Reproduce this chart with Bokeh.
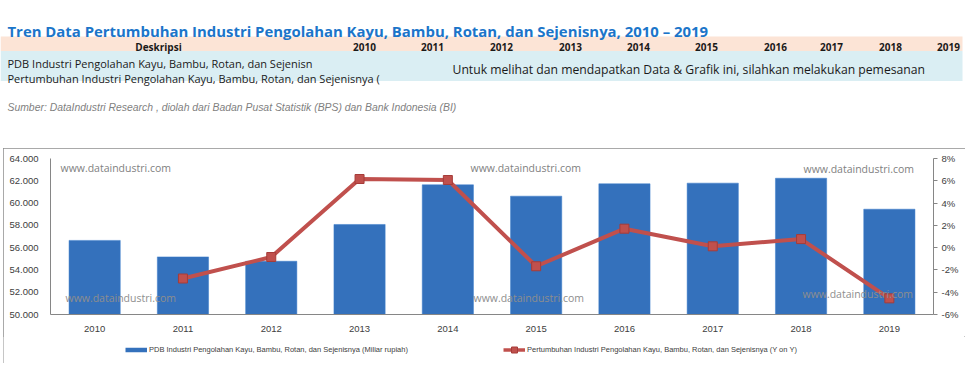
from bokeh.plotting import figure
from bokeh.models import Range1d, LinearAxis, FixedTicker, Label, Legend, LegendItem
from bokeh.layouts import column
from bokeh.embed import file_html
from bokeh.resources import INLINE
from bokeh.core.properties import value

# ---------------- data ----------------
title_text = "Tren Data Pertumbuhan Industri Pengolahan Kayu, Bambu, Rotan, dan Sejenisnya, 2010 \u2013 2019"
years = ["2010", "2011", "2012", "2013", "2014", "2015", "2016", "2017", "2018", "2019"]
pdb = [56650, 55170, 54780, 58080, 61640, 60620, 61730, 61790, 62230, 59450]   # Miliar rupiah
growth_years = ["2011", "2012", "2013", "2014", "2015", "2016", "2017", "2018", "2019"]
growth = [-2.77, -0.84, 6.16, 6.07, -1.67, 1.70, 0.12, 0.77, -4.55]             # % (Y on Y)
left_ticks = [50000, 52000, 54000, 56000, 58000, 60000, 62000, 64000]
left_tick_labels = ["50.000", "52.000", "54.000", "56.000", "58.000", "60.000", "62.000", "64.000"]
right_ticks = [-6, -4, -2, 0, 2, 4, 6, 8]
right_tick_labels = ["-6%", "-4%", "-2%", "0%", "2%", "4%", "6%", "8%"]
bar_label = "PDB Industri Pengolahan Kayu, Bambu, Rotan, dan Sejenisnya (Miliar rupiah)"
line_label = "Pertumbuhan Industri Pengolahan Kayu, Bambu, Rotan, dan Sejenisnya (Y on Y)"
row1_text = "PDB Industri Pengolahan Kayu, Bambu, Rotan, dan Sejenisn"
row2_text = "Pertumbuhan Industri Pengolahan Kayu, Bambu, Rotan, dan Sejenisnya ("
order_text = "Untuk melihat dan mendapatkan Data & Grafik ini, silahkan melakukan pemesanan"
source_text = "Sumber: DataIndustri Research , diolah dari Badan Pusat Statistik (BPS) dan Bank Indonesia (BI)"
watermark = "www.dataindustri.com"

FONT = value("Open Sans")
BAR_FILL, BAR_LINE = "#3471BC", "#3A7CCB"
LINE_COL, MK_FILL, MK_LINE = "#C0504D", "#C0504D", "#A63C39"


def bare(fig):
    fig.axis.visible = False
    fig.grid.visible = False
    fig.outline_line_color = None
    fig.background_fill_color = "white"
    fig.border_fill_color = "white"


# ---------------- header (title + table), page-pixel coordinates ----------------
h = figure(width=968, height=148, x_range=Range1d(0, 968), y_range=Range1d(148, 0),
           output_backend="svg", toolbar_location=None, min_border=0, frame_align=False)
bare(h)

h.quad(left=[0], right=[962], top=[36], bottom=[50.5], fill_color="#FCE4D6", line_color=None)
h.quad(left=[0], right=[962], top=[50.5], bottom=[80.5], fill_color="#DAEEF3", line_color=None)

h.text(x=[7], y=[30], text=[title_text], text_font=FONT, text_font_style="bold",
       text_font_size="14.9px", text_color="#1B75C9", text_baseline="alphabetic")
h.text(x=[158], y=[46.5], text=["Deskripsi"], text_font=FONT, text_font_style="bold",
       text_font_size="10px", text_color="#1a1a1a", text_baseline="alphabetic", text_align="center")
year_x = [364, 432, 501, 570, 638, 706, 775, 831, 890, 948]
h.text(x=year_x, y=[46.5] * len(years), text=years, text_font=FONT, text_font_style="bold",
       text_font_size="10px", text_color="#1a1a1a", text_baseline="alphabetic", text_align="center")
h.text(x=[7, 7], y=[62.5, 77.5], text=[row1_text, row2_text], text_font=FONT,
       text_font_size="11px", text_color="#1a1a1a", text_baseline="alphabetic")
h.text(x=[452], y=[68.5], text=[order_text], text_font=FONT,
       text_font_size="12.2px", text_color="#1a1a1a", text_baseline="alphabetic")
h.text(x=[7], y=[106.5], text=[source_text], text_font=value("Liberation Sans"), text_font_style="italic",
       text_font_size="10.4px", text_color="#7F7F7F", text_baseline="alphabetic")

# ---------------- chart ----------------
p = figure(width=962, height=188, x_range=years, y_range=Range1d(50000, 64000),
           output_backend="svg", toolbar_location=None, frame_align=False,
           min_border_left=47, min_border_right=32, min_border_top=10, min_border_bottom=22)
p.extra_y_ranges = {"g": Range1d(-6, 8)}
p.grid.visible = False
p.outline_line_color = None
p.background_fill_color = "white"
p.border_fill_color = "white"

bars = p.vbar(x=years, top=pdb, bottom=50000, width=0.58,
              fill_color=BAR_FILL, line_color=BAR_LINE, line_width=0.5)
ln = p.line(x=growth_years, y=growth, y_range_name="g", line_color=LINE_COL, line_width=4)
mk = p.scatter(x=growth_years, y=growth, y_range_name="g", marker="square", size=9,
               fill_color=MK_FILL, line_color=MK_LINE, line_width=1)

AX = "#868686"
LBL = "#404040"
p.yaxis.ticker = FixedTicker(ticks=left_ticks)
p.yaxis.major_label_overrides = dict(zip(left_ticks, left_tick_labels))
p.yaxis.axis_line_color = AX
p.yaxis.major_tick_line_color = None
p.yaxis.minor_tick_line_color = None
p.yaxis.major_label_standoff = 6
p.yaxis.major_label_text_font = "Liberation Sans"
p.yaxis.major_label_text_font_size = "9.5px"
p.yaxis.major_label_text_color = LBL

ry = LinearAxis(y_range_name="g", ticker=FixedTicker(ticks=right_ticks),
                major_label_overrides=dict(zip(right_ticks, right_tick_labels)))
ry.axis_line_color = AX
ry.major_tick_line_color = AX
ry.major_tick_in = 0
ry.major_tick_out = 4
ry.minor_tick_line_color = None
ry.major_label_standoff = 4
ry.major_label_text_font = "Liberation Sans"
ry.major_label_text_font_size = "9.5px"
ry.major_label_text_color = LBL
p.add_layout(ry, "right")

p.xaxis.axis_line_color = AX
p.xaxis.major_tick_line_color = None
p.xaxis.major_label_standoff = 5
p.xaxis.major_label_text_font = "Liberation Sans"
p.xaxis.major_label_text_font_size = "9.5px"
p.xaxis.major_label_text_color = LBL

# watermarks (canvas coordinates of the chart)
for wx, wy, col in [(57, 19, "#7F7F7F"), (467, 19, "#7F7F7F"), (800, 20, "#7F7F7F"),
                    (62, 149, "#8E8E8E"), (470, 149.5, "#8E8E8E"), (799, 145.5, "#8E8E8E")]:
    p.add_layout(Label(x=wx, y=wy, x_units="canvas", y_units="canvas", text=watermark,
                       text_font="Open Sans", text_font_size="10.5px", text_color=col,
                       text_baseline="alphabetic"))

# ---------------- legend strip ----------------
# the same series are drawn here outside the visible y window; only their legend swatches show
lg = figure(width=962, height=27, x_range=years, y_range=Range1d(70000, 70001),
            output_backend="svg", toolbar_location=None, min_border=0, frame_align=False)
bare(lg)
lb = lg.line(x=years, y=pdb, line_color=BAR_FILL, line_width=4.5)
ll = lg.line(x=growth_years, y=growth, line_color=LINE_COL, line_width=3.5)
lm = lg.scatter(x=growth_years, y=growth, marker="square", size=9,
                fill_color=MK_FILL, line_color=MK_LINE)
legend = Legend(items=[LegendItem(label=bar_label, renderers=[lb]),
                       LegendItem(label=line_label, renderers=[ll, lm])],
                orientation="horizontal", location=(122, 6),
                border_line_color=None, background_fill_alpha=0,
                label_text_font="Liberation Sans", label_text_font_size="7.5px",
                label_text_color=LBL, glyph_width=22, glyph_height=15, label_height=10,
                label_width=262, label_standoff=2, spacing=92, padding=0, margin=0)
lg.add_layout(legend, "center")

chart = column(p, lg, spacing=0, margin=(0, 0, 0, 3),
               styles={"outline": "1px solid #8C8C8C", "outline-offset": "-1px"})
layout = column(h, chart, spacing=0)
open("out.html", "w").write(file_html(layout, INLINE))
